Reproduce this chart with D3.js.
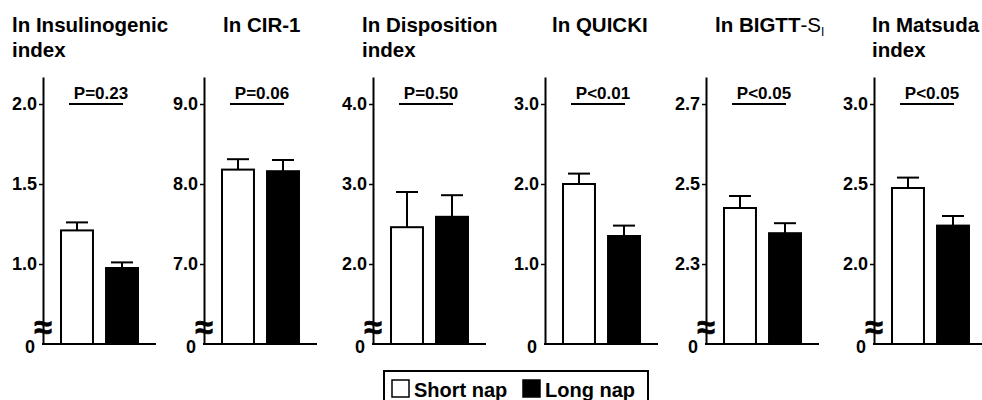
<!DOCTYPE html>
<html>
<head>
<meta charset="utf-8">
<script src="https://cdn.jsdelivr.net/npm/d3@7"></script>
<style>
	body { margin: 0; background: #fff; }
	text { font-family: Arial, "Liberation Sans", sans-serif; font-weight: bold; fill: #000; }
</style>
</head>
<body>
<svg id="svgChart" width="982" height="400"></svg>
<script>
// Chart data
const groups = ["Short nap", "Long nap"];
const panelTitles = [
	["ln Insulinogenic", "index"],
	["ln CIR-1"],
	["ln Disposition", "index"],
	["ln QUICKI"],
	["ln BIGTT-S_I"],
	["ln Matsuda", "index"]
];
const shortMeans = [1.21, 8.18, 2.46, 2.00, 2.44, 2.475];
const shortSem = [0.05, 0.13, 0.44, 0.13, 0.03, 0.065];
const longMeans = [0.975, 8.16, 2.59, 1.35, 2.377, 2.24];
const longSem = [0.035, 0.14, 0.27, 0.13, 0.025, 0.06];
const pLabels = ["P=0.23", "P=0.06", "P=0.50", "P<0.01", "P<0.05", "P<0.05"];
const axisBase = [0.5, 6, 1, 0, 2.1, 1.5];
const tickValues = [
	[1.0, 1.5, 2.0],
	[7.0, 8.0, 9.0],
	[2.0, 3.0, 4.0],
	[1.0, 2.0, 3.0],
	[2.3, 2.5, 2.7],
	[2.0, 2.5, 3.0]
];
const hasBreak = [true, true, true, false, true, true];

// Layout
var fig = {
	"baseY": 344, "topY": 77, "tickPx": 80, "xLen": 113,
	"axisX": [43, 204, 373, 545, 706, 874],
	"titleX": [12, 223, 362, 552, 715, 872]
};

fig.init = () => {
	let svg = d3.select("#svgChart");
	panelTitles.forEach((t, i) => fig.doPanel(svg, i));
	fig.doLegend(svg);
}

// Draw one bar panel
fig.doPanel = (svg, i) => {
	let ax = fig.axisX[i];
	let ticks = tickValues[i];
	let step = ticks[1] - ticks[0];
	let top = axisBase[i] + step * (fig.baseY - fig.topY) / fig.tickPx;

	let y = d3.scaleLinear()
		.domain([axisBase[i], top])
		.range([fig.baseY, fig.topY]);
	let x = d3.scaleBand()
		.domain(groups)
		.range([ax, ax + fig.xLen])
		.paddingInner(0.29)
		.paddingOuter(0.4);

	let g = svg.append("g");

	// Title lines
	panelTitles[i].forEach((line, k) => {
		let t = g.append("text")
			.attr("x", fig.titleX[i])
			.attr("y", 32 + k * 25)
			.style("font-size", "20.5px");
		let parts = line.split("_");
		if (parts.length > 1) {
			let main = parts[0].split("-");
			t.append("tspan").text(main[0]);
			t.append("tspan").style("font-weight", "normal").text("-" + main[1]);
			t.append("tspan").style("font-weight", "normal")
				.style("font-size", "12px").attr("dy", 4).text(parts[1]);
		}
		else
			t.text(line);
	});

	// Y axis
	let yAxis = g.append("g")
		.attr("transform", "translate(" + ax + ",0)")
		.call(d3.axisLeft(y)
			.tickValues(ticks)
			.tickSize(4)
			.tickSizeOuter(0)
			.tickFormat(d3.format(".1f")));
	yAxis.select(".domain").attr("stroke-width", 2);
	yAxis.selectAll(".tick line").attr("stroke-width", 1.5);
	yAxis.selectAll(".tick text")
		.attr("x", -6)
		.style("font-size", "18px")
		.style("font-family", "Arial, 'Liberation Sans', sans-serif");

	// Baseline
	g.append("line")
		.attr("x1", ax - 1).attr("x2", ax + fig.xLen)
		.attr("y1", fig.baseY).attr("y2", fig.baseY)
		.attr("stroke", "#000").attr("stroke-width", 2);
	g.append("text")
		.attr("x", ax - 8)
		.attr("y", fig.baseY + 9)
		.style("text-anchor", "end")
		.style("font-size", "18px")
		.text("0");

	// Axis break
	if (hasBreak[i]) {
		g.append("text")
			.attr("x", ax)
			.attr("y", fig.baseY - 6)
			.style("text-anchor", "middle")
			.style("font-size", "32px")
			.attr("stroke", "#000")
			.attr("stroke-width", 0.8)
			.text("\u2248");
	}

	// Bars
	let rows = [
		{ group: groups[0], mean: shortMeans[i], sem: shortSem[i], fill: "#fff" },
		{ group: groups[1], mean: longMeans[i], sem: longSem[i], fill: "#000" }
	];
	let bw = x.bandwidth();

	// Error bars
	rows.forEach((d) => {
		let cx = x(d.group) + bw / 2;
		g.append("line")
			.attr("x1", cx).attr("x2", cx)
			.attr("y1", y(d.mean)).attr("y2", y(d.mean + d.sem))
			.attr("stroke", "#000").attr("stroke-width", 2);
		g.append("line")
			.attr("x1", cx - 11).attr("x2", cx + 11)
			.attr("y1", y(d.mean + d.sem)).attr("y2", y(d.mean + d.sem))
			.attr("stroke", "#000").attr("stroke-width", 2);
	});

	g.selectAll(".bar")
		.data(rows)
		.enter()
		.append("rect")
		.attr("class", "bar")
		.attr("x", (d) => x(d.group))
		.attr("y", (d) => y(d.mean))
		.attr("width", bw)
		.attr("height", (d) => fig.baseY - y(d.mean))
		.attr("fill", (d) => d.fill)
		.attr("stroke", "#000")
		.attr("stroke-width", 2);

	// P value
	let py = y(ticks[2]);
	let x1 = x(groups[0]) + 8,
		x2 = x(groups[1]) + 17;
	g.append("line")
		.attr("x1", x1).attr("x2", x2)
		.attr("y1", py).attr("y2", py)
		.attr("stroke", "#000").attr("stroke-width", 2);
	g.append("text")
		.attr("x", (x1 + x2) / 2 + 5)
		.attr("y", py - 5)
		.style("text-anchor", "middle")
		.style("font-size", "17px")
		.text(pLabels[i]);
}

// Legend box
fig.doLegend = (svg) => {
	let g = svg.append("g");
	g.append("rect")
		.attr("x", 384).attr("y", 371)
		.attr("width", 264).attr("height", 40)
		.attr("fill", "#fff").attr("stroke", "#000").attr("stroke-width", 2);

	let items = [
		{ name: groups[0], fill: "#fff", x: 392 },
		{ name: groups[1], fill: "#000", x: 523 }
	];
	items.forEach((d) => {
		g.append("rect")
			.attr("x", d.x).attr("y", 380)
			.attr("width", 17).attr("height", 17)
			.attr("fill", d.fill).attr("stroke", "#000").attr("stroke-width", 1.5);
		g.append("text")
			.attr("x", d.x + 22)
			.attr("y", 397)
			.style("font-size", "20px")
			.text(d.name);
	});
}

fig.init();
</script>
</body>
</html>
